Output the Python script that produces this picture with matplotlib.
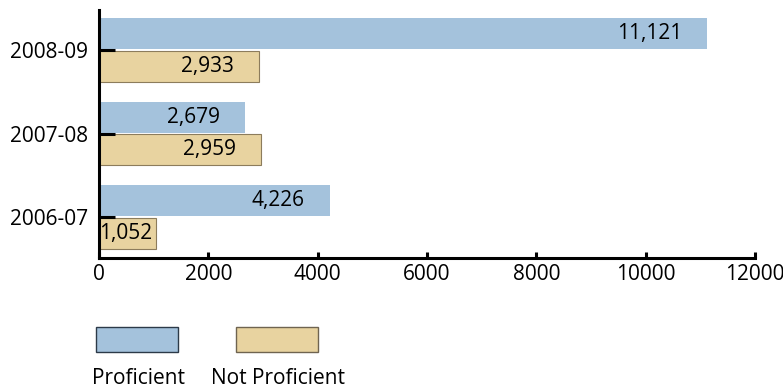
#! /usr/bin/env python3

import numpy as np
from matplotlib import pyplot as plt
from matplotlib.patches import Rectangle

plt.rcParams.update({'font.family': 'Open Sans', 'font.size': 15})

years = ['2006-07', '2007-08', '2008-09']
proficient = [4226, 2679, 11121]
not_proficient = [1052, 2959, 2933]

blue = '#a4c2dc'
tan = '#e8d3a0'

fig = plt.figure(figsize=(7.83, 3.92), dpi=100)
ax = fig.add_axes([0.1264, 0.3418, 0.8378, 0.6327])

y = np.arange(len(years))
h = 0.37
ax.barh(y + 0.01 + h / 2, proficient, height=h, color=blue, edgecolor='none')
ax.barh(y - 0.01 - h / 2, not_proficient, height=h, color=tan,
        edgecolor='#8c7c5c', linewidth=0.8)

# value labels just inside the bar end
for yy, vals in [(y + 0.01 + h / 2, proficient), (y - 0.01 - h / 2, not_proficient)]:
    for yi, v in zip(yy, vals):
        txt = f'{v:,}'
        if v < 2000:
            ax.annotate(txt, (0, yi), xytext=(0, 0), textcoords='offset points',
                        ha='left', va='center')
        else:
            ax.annotate(txt, (v, yi), xytext=(-18, 0), textcoords='offset points',
                        ha='right', va='center')

ax.set_xlim(0, 12000)
ax.set_ylim(-0.49, 2.48)
ax.set_xticks(range(0, 12001, 2000))
ax.set_yticks(y, years)
ax.spines[['top', 'right']].set_visible(False)
ax.spines[['left', 'bottom']].set_linewidth(2.2)
ax.tick_params(axis='y', direction='in', length=11.5, width=2.2, pad=8)
ax.tick_params(axis='x', direction='in', length=4, width=2.2, pad=4)

# legend boxes with labels underneath
for x0, col, ec, lab in [(96, blue, '#2c3a48', 'Proficient'),
                         (236, tan, '#6f6450', 'Not Proficient')]:
    fig.patches.append(Rectangle((x0 / 783, 1 - 352 / 392), 82 / 783, 25 / 392,
                                 transform=fig.transFigure, facecolor=col,
                                 edgecolor=ec, linewidth=1))
    fig.text((x0 + 42) / 783, 1 - 379 / 392, lab, ha='center', va='center')

fig.savefig('out.png', dpi=100)
